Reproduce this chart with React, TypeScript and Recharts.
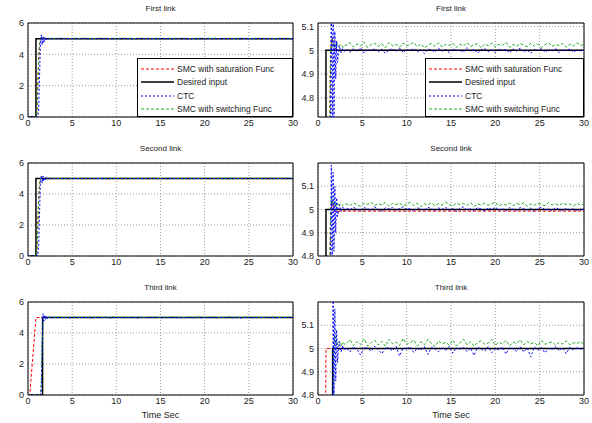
import React from "react";
import { LineChart, Line, XAxis, YAxis, CartesianGrid, ReferenceArea } from "recharts";

// shared sample times (s) for the CTC / switching-SMC traces
const TIME = [
  0, 0.5, 0.85, 0.9, 1.0, 1.1, 1.2, 1.3, 1.4, 1.5, 1.6, 1.7, 1.8, 1.9, 2.0, 2.1, 2.2, 2.4, 2.6, 2.8, 3.0,
  3.2, 3.6, 4.0, 4.4, 4.8, 5.2, 5.6, 6.0, 6.4, 6.8,
  7.2, 7.6, 8.0, 8.4, 8.8, 9.2, 9.6, 10.0, 10.4, 10.8,
  11.2, 11.6, 12.0, 12.4, 12.8, 13.2, 13.6, 14.0, 14.4, 14.8,
  15.2, 15.6, 16.0, 16.4, 16.8, 17.2, 17.6, 18.0, 18.4, 18.8,
  19.2, 19.6, 20.0, 20.4, 20.8, 21.2, 21.6, 22.0, 22.4, 22.8,
  23.2, 23.6, 24.0, 24.4, 24.8, 25.2, 25.6, 26.0, 26.4, 26.8,
  27.2, 27.6, 28.0, 28.4, 28.8, 29.2, 29.6, 30.0,
];

const X_TICKS = [0, 5, 10, 15, 20, 25, 30];
const FULL_TICKS = [0, 2, 4, 6];
const ZOOM_TICKS = [4.8, 4.9, 5, 5.1];

// link 1
const DES1_T = [0, 0.9, 0.9, 30];
const DES1 = [0, 0, 5, 5];
const SAT1_T = [0, 0.9, 1.0, 1.1, 1.2, 1.3, 1.4, 1.5, 1.6, 1.8, 2.0, 2.4, 3.0, 30];
const SAT1 = [0, 0, 0.3, 1.9, 3.6, 4.6, 4.93, 5.03, 5.05, 5.02, 5.004, 4.998, 5.0, 5.0];
const CTC1 = [
  0, 0, 0, 0, 0, 0, 0.4, 2.4, 4.5, 5.25, 4.6, 5.17, 4.72, 5.08, 4.88, 5.04, 4.95, 5.02, 4.99, 5.008, 4.996,
  5.004, 4.992, 5.008, 4.996, 5.011, 4.989, 5.003, 4.998, 5.009, 4.993,
  5.006, 4.987, 5.002, 5.007, 4.995, 5.010, 4.991, 5.004, 4.999, 5.008,
  4.994, 5.003, 4.986, 5.006, 5.001, 4.993, 5.009, 4.997, 5.004, 4.990,
  5.007, 4.998, 5.002, 4.992, 5.011, 4.996, 5.005, 4.988, 5.003, 5.008,
  4.995, 5.001, 4.991, 5.007, 4.998, 5.004, 4.989, 5.006, 4.997, 5.010,
  4.993, 5.002, 4.987, 5.005, 4.999, 5.008, 4.992, 5.003, 4.996, 5.009,
  4.990, 5.004, 4.998, 5.006, 4.993, 5.002, 4.997, 5.001,
];
const SW1 = [
  0, 0, 0, 0, 0.15, 1.6, 3.5, 4.6, 4.95, 5.06, 5.03, 5.02, 5.028, 5.012, 5.025, 5.015, 5.03, 5.018, 5.026, 5.012, 5.022,
  5.021, 5.032, 5.014, 5.027, 5.018, 5.035, 5.012, 5.025, 5.030, 5.016,
  5.028, 5.011, 5.033, 5.020, 5.026, 5.013, 5.031, 5.019, 5.024, 5.034,
  5.015, 5.027, 5.010, 5.022, 5.029, 5.017, 5.032, 5.014, 5.025, 5.020,
  5.030, 5.012, 5.026, 5.018, 5.033, 5.016, 5.023, 5.028, 5.011, 5.027,
  5.019, 5.031, 5.014, 5.025, 5.021, 5.034, 5.013, 5.026, 5.017, 5.029,
  5.022, 5.015, 5.030, 5.018, 5.027, 5.012, 5.024, 5.032, 5.016, 5.025,
  5.020, 5.029, 5.013, 5.026, 5.018, 5.031, 5.021, 5.024,
];

// link 2
const DES2_T = [0, 0.9, 0.9, 30];
const DES2 = [0, 0, 5, 5];
const SAT2_T = [0, 0.9, 1.0, 1.1, 1.2, 1.3, 1.4, 1.5, 1.6, 1.8, 2.0, 2.4, 3.0, 30];
const SAT2 = [0, 0, 0.3, 1.9, 3.6, 4.6, 4.93, 5.02, 5.03, 5.0, 4.99, 4.992, 4.993, 4.993];
const CTC2 = [
  0, 0, 0, 0, 0, 0, 0.5, 2.6, 4.6, 5.19, 4.7, 5.16, 4.82, 5.1, 4.9, 5.05, 4.97, 5.02, 4.992, 5.01, 4.996,
  5.006, 4.998, 5.010, 5.001, 4.995, 5.008, 5.003, 4.997, 5.011, 5.000,
  4.994, 5.007, 5.002, 5.009, 4.996, 5.004, 5.012, 4.999, 5.005, 4.993,
  5.008, 5.001, 4.997, 5.010, 5.003, 4.995, 5.007, 5.000, 5.009, 4.998,
  5.004, 4.992, 5.006, 5.011, 4.999, 5.003, 4.996, 5.008, 5.002, 4.994,
  5.007, 5.000, 5.010, 4.997, 5.005, 4.993, 5.008, 5.001, 4.996, 5.009,
  5.003, 4.998, 5.006, 4.991, 5.004, 5.010, 4.999, 5.002, 4.995, 5.007,
  5.001, 4.996, 5.005, 4.998, 5.003, 4.994, 5.002, 5.000,
];
const SW2 = [
  0, 0, 0, 0, 0.15, 1.6, 3.5, 4.6, 4.96, 5.06, 5.04, 5.02, 5.03, 5.015, 5.028, 5.018, 5.03, 5.02, 5.026, 5.016, 5.024,
  5.024, 5.016, 5.029, 5.020, 5.013, 5.027, 5.022, 5.031, 5.017, 5.025,
  5.019, 5.030, 5.014, 5.026, 5.021, 5.028, 5.015, 5.023, 5.032, 5.018,
  5.027, 5.012, 5.024, 5.020, 5.029, 5.016, 5.025, 5.019, 5.031, 5.022,
  5.014, 5.028, 5.021, 5.026, 5.017, 5.030, 5.013, 5.024, 5.020, 5.027,
  5.018, 5.025, 5.031, 5.015, 5.023, 5.019, 5.028, 5.016, 5.026, 5.021,
  5.029, 5.014, 5.024, 5.018, 5.027, 5.022, 5.016, 5.030, 5.020, 5.025,
  5.017, 5.028, 5.021, 5.024, 5.015, 5.026, 5.019, 5.023,
];

// link 3
const DES3_T = [0, 1.65, 1.65, 30];
const DES3 = [0, 0, 5, 5];
const SAT3_T = [0, 0.2, 0.9, 30];
const SAT3 = [0, 0, 5, 5];
const CTC3 = [
  0, 0, 0, 0, 0, 0, 0, 0, 0, 0.2, 3.2, 5.24, 4.78, 5.17, 4.86, 5.08, 4.94, 5.03, 4.985, 5.012, 4.992,
  5.004, 4.985, 5.008, 4.996, 4.972, 5.006, 5.001, 4.988, 5.010, 4.994,
  4.978, 5.005, 5.002, 4.990, 5.009, 4.968, 5.003, 4.997, 5.007, 4.983,
  5.001, 4.993, 5.008, 4.975, 5.004, 4.999, 4.986, 5.006, 4.991, 5.010,
  4.980, 5.003, 4.996, 5.007, 4.987, 5.002, 4.970, 5.005, 4.998, 4.989,
  5.008, 4.982, 5.001, 4.994, 5.006, 4.976, 5.003, 4.999, 4.988, 5.009,
  4.985, 5.002, 4.964, 5.006, 4.993, 5.004, 4.981, 5.001, 4.997, 5.008,
  4.990, 5.003, 4.978, 5.005, 4.995, 5.002, 4.998, 5.001,
];
const SW3 = [
  0, 0, 0, 0, 0, 0, 0, 0, 0, 0.8, 3.4, 4.7, 5.04, 5.06, 5.02, 5.035, 5.015, 5.03, 5.012, 5.028, 5.018,
  5.022, 5.038, 5.012, 5.030, 5.017, 5.042, 5.010, 5.026, 5.035, 5.015,
  5.031, 5.009, 5.040, 5.020, 5.028, 5.013, 5.044, 5.018, 5.025, 5.036,
  5.011, 5.029, 5.016, 5.039, 5.021, 5.008, 5.033, 5.019, 5.027, 5.014,
  5.037, 5.012, 5.024, 5.041, 5.016, 5.030, 5.010, 5.026, 5.034, 5.018,
  5.023, 5.040, 5.013, 5.028, 5.019, 5.035, 5.011, 5.027, 5.021, 5.038,
  5.015, 5.031, 5.020, 5.026, 5.012, 5.036, 5.018, 5.024, 5.029, 5.014,
  5.027, 5.019, 5.033, 5.016, 5.025, 5.021, 5.030, 5.018,
];

const pts = (t: number[], v: number[]) => t.map((x, i) => ({ t: x, v: v[i] }));

const LINKS = [
  { title: "First link", des: pts(DES1_T, DES1), sat: pts(SAT1_T, SAT1), ctc: pts(TIME, CTC1), sw: pts(TIME, SW1) },
  { title: "Second link", des: pts(DES2_T, DES2), sat: pts(SAT2_T, SAT2), ctc: pts(TIME, CTC2), sw: pts(TIME, SW2) },
  { title: "Third link", des: pts(DES3_T, DES3), sat: pts(SAT3_T, SAT3), ctc: pts(TIME, CTC3), sw: pts(TIME, SW3) },
];

const RED = "#ff0000";
const BLUE = "#0000ff";
const GREEN = "#22aa22";
const FONT = "'Liberation Sans', Arial, sans-serif";

const LEGEND = [
  { label: "SMC with saturation Func", color: RED, dash: "3 2", w: 1 },
  { label: "Desired input", color: "#000", dash: undefined, w: 1.6 },
  { label: "CTC", color: BLUE, dash: "2 2", w: 1 },
  { label: "SMC with switching Func", color: GREEN, dash: "3 2", w: 1 },
];

const Legend4 = ({ left, width }: { left: number; width: number }) => (
  <div
    style={{
      position: "absolute", left, top: 58, width, height: 59, boxSizing: "border-box",
      border: "1px solid #000", background: "#fff", fontFamily: FONT, fontSize: 8.5, color: "#222",
      padding: "3px 0 0 3px",
    }}
  >
    {LEGEND.map((e) => (
      <div key={e.label} style={{ display: "flex", alignItems: "center", height: 13.5 }}>
        <svg width={33} height={6} style={{ marginRight: 3 }}>
          <line x1={0} y1={3} x2={33} y2={3} stroke={e.color} strokeWidth={e.w} strokeDasharray={e.dash} />
        </svg>
        <span style={{ whiteSpace: "nowrap" }}>{e.label}</span>
      </div>
    ))}
  </div>
);

type PanelProps = {
  left: number; top: number; height: number; link: (typeof LINKS)[number];
  domain: [number, number]; ticks: number[]; legend: boolean; xLabel: boolean; rightMargin: number;
};

const Panel = ({ left, top, height, link, domain, ticks, legend, xLabel, rightMargin }: PanelProps) => {
  const tickStyle = { fontSize: 9, fill: "#222", fontFamily: FONT };
  return (
    <div style={{ position: "absolute", left, top, width: 300, height }}>
      <div style={{ position: "absolute", left: 28, width: 300 - 28 - rightMargin, top: 4, textAlign: "center", fontFamily: FONT, fontSize: 8, color: "#222" }}>
        {link.title}
      </div>
      <LineChart width={300} height={height} margin={{ top: 23, right: rightMargin, bottom: 0, left: 0 }}>
        <CartesianGrid stroke="#9a9a9a" strokeDasharray="1 2" />
        <XAxis dataKey="t" type="number" domain={[0, 30]} ticks={X_TICKS} allowDataOverflow
          axisLine={false} tickLine={false} tickSize={2} tickMargin={1} height={20} tick={tickStyle} />
        <YAxis type="number" domain={domain} ticks={ticks} allowDataOverflow width={28}
          axisLine={false} tickLine={false} tickSize={2} tickMargin={2} tick={tickStyle} />
        <Line data={link.sat} dataKey="v" stroke={RED} strokeDasharray="3 2" strokeWidth={1} dot={false} isAnimationActive={false} />
        <Line data={link.des} dataKey="v" stroke="#000" strokeWidth={1.5} dot={false} isAnimationActive={false} />
        <Line data={link.sw} dataKey="v" stroke={GREEN} strokeDasharray="3 2" strokeWidth={1} dot={false} isAnimationActive={false} />
        <Line data={link.ctc} dataKey="v" stroke={BLUE} strokeDasharray="2 2" strokeWidth={1} dot={false} isAnimationActive={false} />
        <ReferenceArea x1={0} x2={30} y1={domain[0]} y2={domain[1]} stroke="#000" strokeWidth={1} fill="none" fillOpacity={0} />
      </LineChart>
      {legend && <Legend4 left={left === 0 ? 137 : 135} width={left === 0 ? 156 : 159} />}
      {xLabel && (
        <div style={{ position: "absolute", left: 28, width: 300 - 28 - rightMargin, top: height - 5, textAlign: "center", fontFamily: FONT, fontSize: 9, color: "#222" }}>
          Time Sec
        </div>
      )}
    </div>
  );
};

const ROWS = [
  { top: 0, height: 137, zoom: [4.72, 5.115] as [number, number] },
  { top: 140, height: 136, zoom: [4.8, 5.2] as [number, number] },
  { top: 279, height: 136, zoom: [4.8, 5.2] as [number, number] },
];

export default function App() {
  return (
    <div style={{ position: "absolute", left: 0, top: 0, width: 592, height: 423, background: "#fff" }}>
      {ROWS.map((r, i) => (
        <React.Fragment key={i}>
          <Panel left={0} top={r.top} height={r.height} link={LINKS[i]} domain={[0, 6]} ticks={FULL_TICKS}
            legend={i === 0} xLabel={i === 2} rightMargin={7} />
          <Panel left={290} top={r.top} height={r.height} link={LINKS[i]} domain={r.zoom} ticks={ZOOM_TICKS}
            legend={i === 0} xLabel={i === 2} rightMargin={6} />
        </React.Fragment>
      ))}
    </div>
  );
}
